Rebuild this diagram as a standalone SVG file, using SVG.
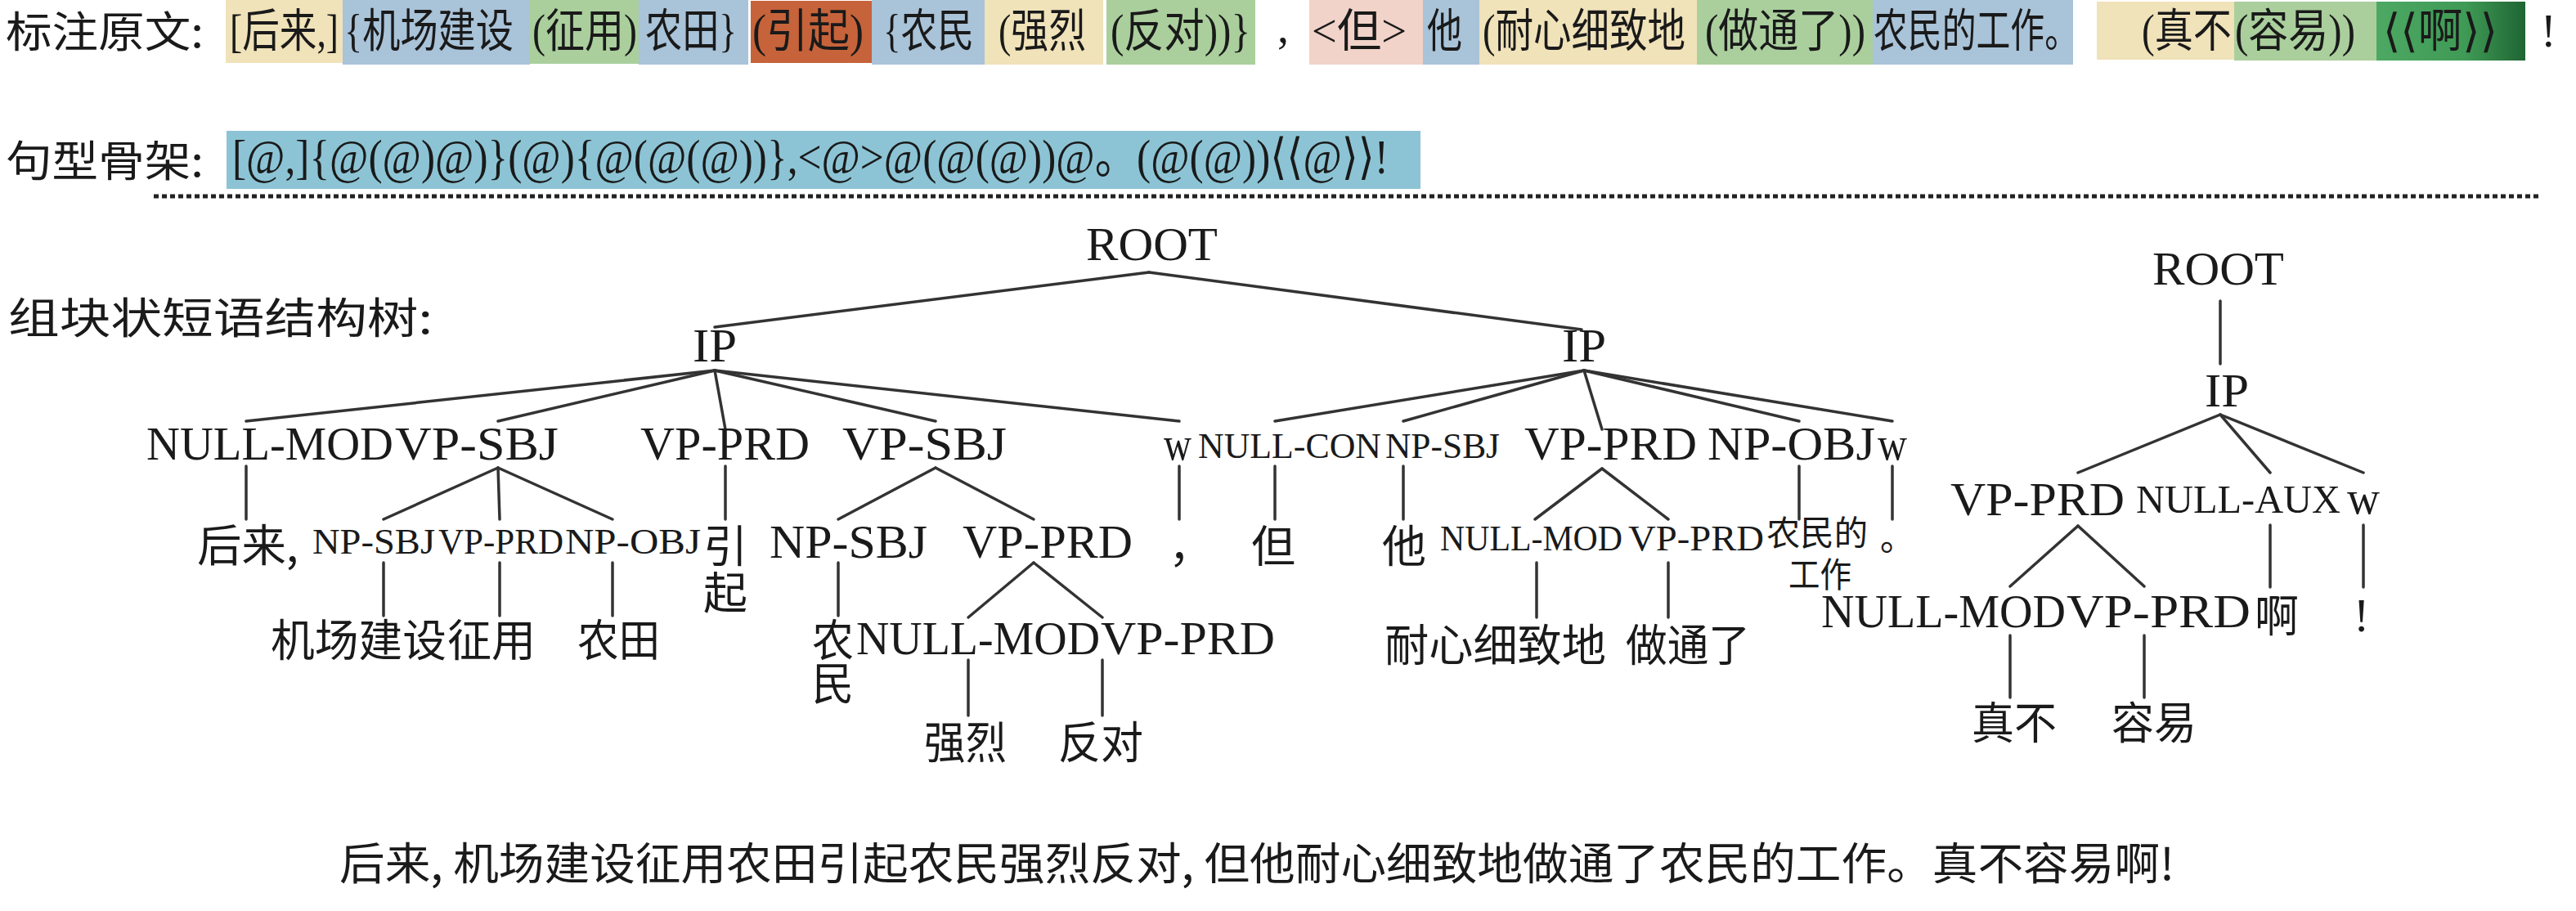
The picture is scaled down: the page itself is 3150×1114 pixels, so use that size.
<svg xmlns="http://www.w3.org/2000/svg" width="3150" height="1114" viewBox="0 0 3150 1114">
<defs>
<linearGradient id="dg" x1="0" y1="0" x2="1" y2="0">
<stop offset="0" stop-color="#4CA862"/>
<stop offset="0.6" stop-color="#3F9A55"/>
<stop offset="1" stop-color="#1F6533"/>
</linearGradient>
<style>
text{fill:#1a1a1a}
.t1{font-family:'Liberation Serif','Noto Sans CJK SC','DejaVu Serif',serif;font-size:56px}
.t2{font-family:'Liberation Serif','Noto Sans CJK SC','DejaVu Serif',serif;font-size:60px}
.hd{font-family:'Noto Sans CJK SC','Liberation Serif',sans-serif;font-size:52px}
.big{font-family:'Liberation Serif','Noto Sans CJK SC',serif;font-size:58px}
.sm{font-family:'Liberation Serif','Noto Sans CJK SC',serif;font-size:44px}
.md{font-family:'Liberation Serif','Noto Sans CJK SC',serif;font-size:48px}
.cj{font-family:'Noto Sans CJK SC','Liberation Serif',sans-serif;font-size:54px}
.cjs{font-family:'Noto Sans CJK SC','Liberation Serif',sans-serif;font-size:42px}
.edges line{stroke:#333;stroke-width:3.5;stroke-linecap:round}
.yel{fill:#F0E2B9}.blu{fill:#A9C3D9}.grn{fill:#AACF9D}.org{fill:#C6633A}.pnk{fill:#F1D3C9}.teal{fill:#8CC4D5}
</style>
</defs>
<rect width="3150" height="1114" fill="#fff"/>

<!-- Row 1: annotated text -->
<g id="row1-label"><text class="hd" x="7" y="58" textLength="242" lengthAdjust="spacingAndGlyphs">标注原文:</text></g>
<g id="row1">
<rect class="yel" x="276" y="0" width="143" height="77"/>
<rect class="blu" x="419" y="0" width="229" height="79"/>
<rect class="grn" x="648" y="0" width="133" height="78"/>
<rect class="blu" x="781" y="0" width="134" height="79"/>
<rect class="org" x="918" y="1" width="148" height="76"/>
<rect class="blu" x="1066" y="0" width="138" height="79"/>
<rect class="yel" x="1204" y="0" width="145" height="79"/>
<rect class="grn" x="1353" y="0" width="182" height="79"/>
<rect class="pnk" x="1601" y="0" width="139" height="79"/>
<rect class="blu" x="1740" y="0" width="69" height="79"/>
<rect class="yel" x="1809" y="0" width="266" height="79"/>
<rect class="grn" x="2075" y="0" width="215" height="79"/>
<rect class="blu" x="2290" y="0" width="245" height="79"/>
<rect class="yel" x="2564" y="2" width="168" height="71"/>
<rect class="grn" x="2732" y="2" width="174" height="72"/>
<rect x="2906" y="2" width="182" height="72" fill="url(#dg)"/>
<text class="t1" x="281" y="57" textLength="133" lengthAdjust="spacingAndGlyphs">[后来,]</text>
<text class="t1" x="421" y="57" textLength="207" lengthAdjust="spacingAndGlyphs">{机场建设</text>
<text class="t1" x="651" y="57" textLength="128" lengthAdjust="spacingAndGlyphs">(征用)</text>
<text class="t1" x="789" y="57" textLength="112" lengthAdjust="spacingAndGlyphs">农田}</text>
<text class="t1" x="920" y="57" textLength="136" lengthAdjust="spacingAndGlyphs">(引起)</text>
<text class="t1" x="1080" y="57" textLength="111" lengthAdjust="spacingAndGlyphs">{农民</text>
<text class="t1" x="1221" y="57" textLength="107" lengthAdjust="spacingAndGlyphs">(强烈</text>
<text class="t1" x="1358" y="57" textLength="171" lengthAdjust="spacingAndGlyphs">(反对))}</text>
<text class="t1" x="1562" y="52">,</text>
<text class="t1" x="1604" y="57" textLength="116" lengthAdjust="spacingAndGlyphs">&lt;但&gt;</text>
<text class="t1" x="1745" y="57" textLength="43" lengthAdjust="spacingAndGlyphs">他</text>
<text class="t1" x="1813" y="57" textLength="248" lengthAdjust="spacingAndGlyphs">(耐心细致地</text>
<text class="t1" x="2085" y="57" textLength="196" lengthAdjust="spacingAndGlyphs">(做通了))</text>
<text class="t1" x="2291" y="57" textLength="251" lengthAdjust="spacingAndGlyphs">农民的工作。</text>
<text class="t1" x="2619" y="57" textLength="110" lengthAdjust="spacingAndGlyphs">(真不</text>
<text class="t1" x="2733" y="57" textLength="147" lengthAdjust="spacingAndGlyphs">(容易))</text>
<text class="t1" x="2914" y="57" textLength="140" lengthAdjust="spacingAndGlyphs">⟨⟨啊⟩⟩</text>
<text class="t1" x="3107" y="57">!</text>
</g>

<!-- Row 2: sentence skeleton -->
<g id="row2-label"><text class="hd" x="7" y="216" textLength="242" lengthAdjust="spacingAndGlyphs">句型骨架:</text></g>
<g id="row2">
<rect class="teal" x="277" y="160" width="1460" height="71"/>
<text class="t2" x="284" y="212" textLength="1414" lengthAdjust="spacingAndGlyphs">[@,]{@(@)@)}(@){@(@(@))},&lt;@&gt;@(@(@))@。(@(@))⟨⟨@⟩⟩!</text>
</g>

<line id="divider" x1="188" y1="240" x2="3104" y2="240" stroke="#222" stroke-width="5" stroke-dasharray="6,4"/>

<g id="tree-label"><text class="hd" x="10" y="408" textLength="519" lengthAdjust="spacingAndGlyphs">组块状短语结构树:</text></g>

<!-- Connectors -->
<g id="connectors" class="edges">
<line x1="1405" y1="333" x2="874" y2="400"/>
<line x1="1405" y1="333" x2="1934" y2="403"/>
<line x1="874" y1="453" x2="301" y2="515"/>
<line x1="874" y1="453" x2="609" y2="515"/>
<line x1="874" y1="453" x2="887" y2="525"/>
<line x1="874" y1="453" x2="1144" y2="515"/>
<line x1="874" y1="453" x2="1442" y2="515"/>
<line x1="1937" y1="453" x2="1559" y2="515"/>
<line x1="1937" y1="453" x2="1716" y2="515"/>
<line x1="1937" y1="453" x2="1959" y2="525"/>
<line x1="1937" y1="453" x2="2200" y2="515"/>
<line x1="1937" y1="453" x2="2314" y2="515"/>
<line x1="301" y1="570" x2="301" y2="635"/>
<line x1="609" y1="572" x2="469" y2="635"/>
<line x1="609" y1="572" x2="611" y2="635"/>
<line x1="609" y1="572" x2="749" y2="635"/>
<line x1="887" y1="570" x2="887" y2="635"/>
<line x1="1144" y1="572" x2="1025" y2="635"/>
<line x1="1144" y1="572" x2="1264" y2="635"/>
<line x1="1442" y1="570" x2="1442" y2="635"/>
<line x1="1559" y1="570" x2="1559" y2="635"/>
<line x1="1716" y1="570" x2="1716" y2="635"/>
<line x1="1959" y1="573" x2="1877" y2="635"/>
<line x1="1959" y1="573" x2="2040" y2="635"/>
<line x1="2200" y1="570" x2="2200" y2="635"/>
<line x1="2314" y1="570" x2="2314" y2="635"/>
<line x1="469" y1="688" x2="469" y2="753"/>
<line x1="611" y1="688" x2="611" y2="753"/>
<line x1="749" y1="688" x2="749" y2="753"/>
<line x1="1025" y1="688" x2="1025" y2="753"/>
<line x1="1264" y1="688" x2="1184" y2="755"/>
<line x1="1264" y1="688" x2="1348" y2="755"/>
<line x1="1879" y1="688" x2="1879" y2="755"/>
<line x1="2040" y1="688" x2="2040" y2="755"/>
<line x1="1184" y1="807" x2="1184" y2="875"/>
<line x1="1348" y1="807" x2="1348" y2="875"/>
<line x1="2715" y1="368" x2="2715" y2="445"/>
<line x1="2715" y1="507" x2="2541" y2="578"/>
<line x1="2715" y1="507" x2="2776" y2="578"/>
<line x1="2715" y1="507" x2="2890" y2="578"/>
<line x1="2541" y1="643" x2="2458" y2="717"/>
<line x1="2541" y1="643" x2="2622" y2="717"/>
<line x1="2776" y1="642" x2="2776" y2="718"/>
<line x1="2890" y1="642" x2="2890" y2="718"/>
<line x1="2458" y1="777" x2="2458" y2="853"/>
<line x1="2622" y1="777" x2="2622" y2="853"/>
</g>

<!-- Tree 1 nodes -->
<g id="n-root1"><text class="big" x="1328" y="318" textLength="161" lengthAdjust="spacingAndGlyphs">ROOT</text></g>
<g id="n-ip1"><text class="big" x="847" y="442" textLength="54" lengthAdjust="spacingAndGlyphs">IP</text></g>
<g id="n-ip2"><text class="big" x="1910" y="442" textLength="54" lengthAdjust="spacingAndGlyphs">IP</text></g>
<g id="n-nullmod1"><text class="big" x="179" y="562" textLength="302" lengthAdjust="spacingAndGlyphs">NULL-MOD</text></g>
<g id="n-vpsbj1"><text class="big" x="483" y="562" textLength="200" lengthAdjust="spacingAndGlyphs">VP-SBJ</text></g>
<g id="n-vpprd1"><text class="big" x="783" y="562" textLength="207" lengthAdjust="spacingAndGlyphs">VP-PRD</text></g>
<g id="n-vpsbj2"><text class="big" x="1030" y="562" textLength="201" lengthAdjust="spacingAndGlyphs">VP-SBJ</text></g>
<g id="n-w1"><text class="big" x="1423" y="562" textLength="34" lengthAdjust="spacingAndGlyphs">w</text></g>
<g id="n-nullcon"><text class="sm" x="1465" y="560" textLength="224" lengthAdjust="spacingAndGlyphs">NULL-CON</text></g>
<g id="n-npsbj2"><text class="sm" x="1694" y="560" textLength="140" lengthAdjust="spacingAndGlyphs">NP-SBJ</text></g>
<g id="n-vpprd2"><text class="big" x="1864" y="562" textLength="211" lengthAdjust="spacingAndGlyphs">VP-PRD</text></g>
<g id="n-npobj2"><text class="big" x="2088" y="562" textLength="205" lengthAdjust="spacingAndGlyphs">NP-OBJ</text></g>
<g id="n-w2"><text class="big" x="2296" y="562" textLength="36" lengthAdjust="spacingAndGlyphs">w</text></g>

<g id="n-houlai"><text class="cj" x="241" y="687" textLength="124" lengthAdjust="spacingAndGlyphs">后来,</text></g>
<g id="n-npsbj1"><text class="sm" x="382" y="677" textLength="150" lengthAdjust="spacingAndGlyphs">NP-SBJ</text></g>
<g id="n-vpprd1b"><text class="sm" x="536" y="677" textLength="153" lengthAdjust="spacingAndGlyphs">VP-PRD</text></g>
<g id="n-npobj1"><text class="sm" x="691" y="677" textLength="166" lengthAdjust="spacingAndGlyphs">NP-OBJ</text></g>
<g id="n-yinqi"><text class="cj" x="860" y="688">引</text><text class="cj" x="860" y="745">起</text></g>
<g id="n-npsbj3"><text class="big" x="941" y="682" textLength="193" lengthAdjust="spacingAndGlyphs">NP-SBJ</text></g>
<g id="n-vpprd3"><text class="big" x="1177" y="682" textLength="208" lengthAdjust="spacingAndGlyphs">VP-PRD</text></g>
<g id="n-comma"><text class="cj" x="1429" y="688">，</text></g>
<g id="n-dan"><text class="cj" x="1530" y="688">但</text></g>
<g id="n-ta"><text class="cj" x="1690" y="688">他</text></g>
<g id="n-nullmod2"><text class="sm" x="1761" y="673" textLength="223" lengthAdjust="spacingAndGlyphs">NULL-MOD</text></g>
<g id="n-vpprd4"><text class="sm" x="1991" y="673" textLength="166" lengthAdjust="spacingAndGlyphs">VP-PRD</text></g>
<g id="n-nongmin-work"><text class="cjs" x="2160" y="667" textLength="124" lengthAdjust="spacingAndGlyphs">农民的</text><text class="cjs" x="2187" y="718" textLength="77" lengthAdjust="spacingAndGlyphs">工作</text></g>
<g id="n-period"><text class="cjs" x="2299" y="673">。</text></g>

<g id="n-jichang"><text class="cj" x="331" y="803" textLength="215" lengthAdjust="spacingAndGlyphs">机场建设</text></g>
<g id="n-zhengyong"><text class="cj" x="547" y="803" textLength="108" lengthAdjust="spacingAndGlyphs">征用</text></g>
<g id="n-nongtian"><text class="cj" x="706" y="803" textLength="101" lengthAdjust="spacingAndGlyphs">农田</text></g>
<g id="n-nongmin"><text class="cj" x="993" y="803" textLength="51" lengthAdjust="spacingAndGlyphs">农</text><text class="cj" x="993" y="856" textLength="51" lengthAdjust="spacingAndGlyphs">民</text></g>
<g id="n-nullmod3"><text class="big" x="1047" y="800" textLength="298" lengthAdjust="spacingAndGlyphs">NULL-MOD</text></g>
<g id="n-vpprd5"><text class="big" x="1346" y="800" textLength="213" lengthAdjust="spacingAndGlyphs">VP-PRD</text></g>
<g id="n-naixin"><text class="cj" x="1693" y="809" textLength="271" lengthAdjust="spacingAndGlyphs">耐心细致地</text></g>
<g id="n-zuotong"><text class="cj" x="1988" y="809" textLength="152" lengthAdjust="spacingAndGlyphs">做通了</text></g>
<g id="n-qianglie"><text class="cj" x="1130" y="928" textLength="101" lengthAdjust="spacingAndGlyphs">强烈</text></g>
<g id="n-fandui"><text class="cj" x="1294" y="928" textLength="104" lengthAdjust="spacingAndGlyphs">反对</text></g>

<!-- Tree 2 nodes -->
<g id="n-root2"><text class="big" x="2632" y="348" textLength="161" lengthAdjust="spacingAndGlyphs">ROOT</text></g>
<g id="n-ip3"><text class="big" x="2696" y="497" textLength="54" lengthAdjust="spacingAndGlyphs">IP</text></g>
<g id="n-vpprd6"><text class="big" x="2385" y="630" textLength="213" lengthAdjust="spacingAndGlyphs">VP-PRD</text></g>
<g id="n-nullaux"><text class="md" x="2612" y="627" textLength="250" lengthAdjust="spacingAndGlyphs">NULL-AUX</text></g>
<g id="n-w3"><text class="big" x="2870" y="628" textLength="40" lengthAdjust="spacingAndGlyphs">w</text></g>
<g id="n-nullmod4"><text class="big" x="2227" y="767" textLength="299" lengthAdjust="spacingAndGlyphs">NULL-MOD</text></g>
<g id="n-vpprd7"><text class="big" x="2527" y="767" textLength="225" lengthAdjust="spacingAndGlyphs">VP-PRD</text></g>
<g id="n-a"><text class="cj" x="2757" y="773">啊</text></g>
<g id="n-excl"><text class="big" x="2878" y="772">!</text></g>
<g id="n-zhenbu"><text class="cj" x="2411" y="904" textLength="104" lengthAdjust="spacingAndGlyphs">真不</text></g>
<g id="n-rongyi"><text class="cj" x="2582" y="904" textLength="104" lengthAdjust="spacingAndGlyphs">容易</text></g>

<!-- Bottom sentence -->
<g id="sentence"><text class="cj" x="415" y="1076" font-size="56" textLength="2244" lengthAdjust="spacingAndGlyphs">后来, 机场建设征用农田引起农民强烈反对, 但他耐心细致地做通了农民的工作。真不容易啊!</text></g>
</svg>
